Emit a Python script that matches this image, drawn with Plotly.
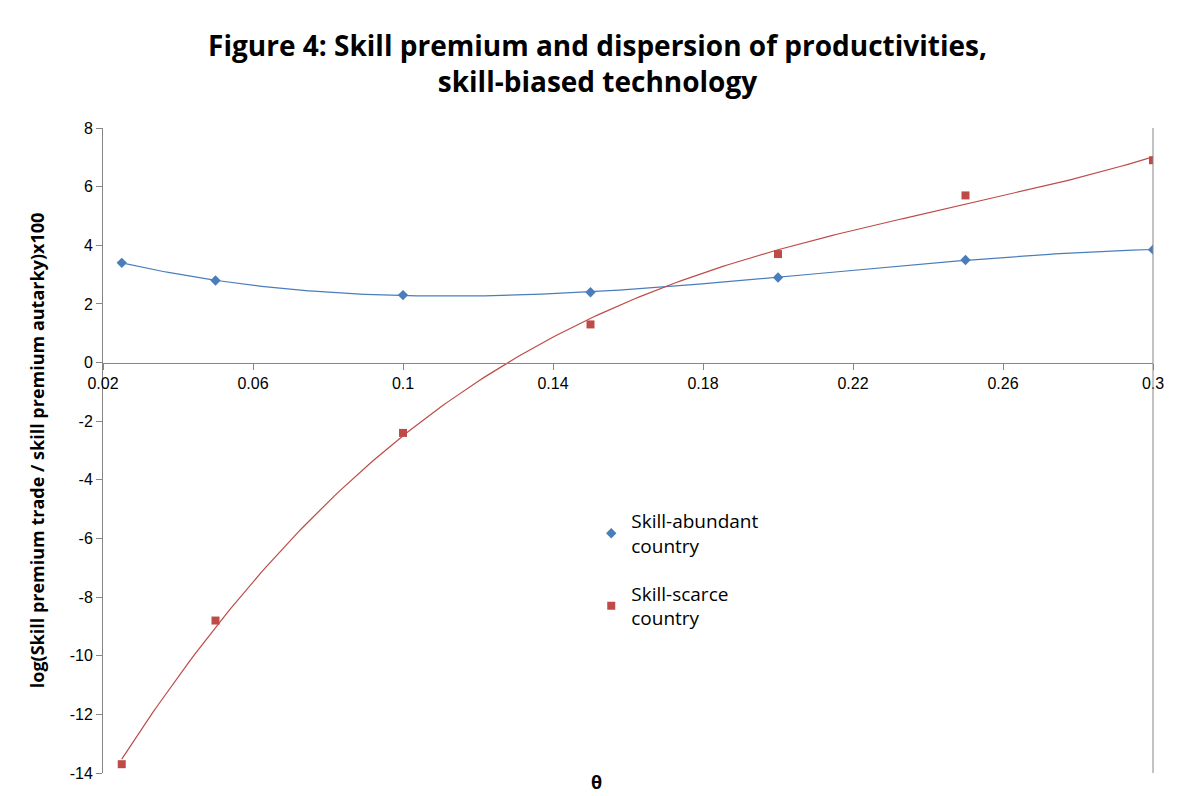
import numpy as np
import plotly.graph_objects as go

theta = [0.025, 0.05, 0.1, 0.15, 0.2, 0.25, 0.3]
abundant = [3.4, 2.8, 2.3, 2.4, 2.9, 3.5, 3.85]
scarce = [-13.7, -8.8, -2.4, 1.3, 3.7, 5.7, 6.9]

x_ticks = [0.02, 0.06, 0.1, 0.14, 0.18, 0.22, 0.26, 0.3]
y_ticks = list(range(-14, 9, 2))

blue = "#4a7ebb"
red = "#be4b48"

# Excel-style polynomial trendlines
xs = np.linspace(0.025, 0.3, 200)
fit_a = np.polyval(np.polyfit(theta, abundant, 3), xs)
fit_s = np.polyval(np.polyfit(theta, scarce, 3), xs)

fig = go.Figure()
fig.add_trace(go.Scatter(x=xs, y=fit_a, mode="lines", line=dict(color=blue, width=1.2),
                         showlegend=False, hoverinfo="skip"))
fig.add_trace(go.Scatter(x=xs, y=fit_s, mode="lines", line=dict(color=red, width=1.2),
                         showlegend=False, hoverinfo="skip"))
fig.add_trace(go.Scatter(x=theta, y=abundant, mode="markers", name="Skill-abundant<br>country",
                         legendgroup="a", marker=dict(symbol="diamond", size=8, color=blue)))
fig.add_trace(go.Scatter(x=theta, y=scarce, mode="markers", name="Skill-scarce<br>country",
                         legendgroup="s", marker=dict(symbol="square", size=8, color=red)))

fig.update_layout(
    width=1179, height=796,
    margin=dict(l=95, r=34, t=120, b=31),
    paper_bgcolor="white", plot_bgcolor="white",
    font=dict(family="Liberation Sans, Arial", size=16, color="black"),
    title=dict(text="<b>Figure 4: Skill premium and dispersion of productivities,<br>skill-biased technology</b>",
               x=0.5, xanchor="center", y=0.94, yanchor="top",
               font=dict(family="Open Sans", size=28)),
    xaxis=dict(range=[0.02, 0.3], tickvals=x_ticks, ticktext=[f"{v:g}" for v in x_ticks],
               anchor="free", position=14/22, showline=True, linecolor="#868686",
               ticks="outside", ticklen=6, tickcolor="#868686", showgrid=False, zeroline=False),
    yaxis=dict(range=[-14, 8], tickvals=y_ticks, ticktext=[str(v) for v in y_ticks],
               showline=True, linecolor="#868686", ticks="outside",
               ticklen=6, tickcolor="#868686", showgrid=False, zeroline=False,
               title=dict(text="<b>log(Skill premium trade / skill premium autarky)x100</b>",
                          font=dict(family="Open Sans", size=18), standoff=20)),
    legend=dict(x=0.465, y=0.42, xanchor="left", yanchor="top", bgcolor="rgba(0,0,0,0)",
                font=dict(family="Open Sans", size=19), tracegroupgap=20),
    annotations=[dict(text="<b>θ</b>", x=0.47, y=0.008, xref="paper", yref="paper",
                      yanchor="top", showarrow=False, font=dict(family="Open Sans", size=18))],
    shapes=[dict(type="line", xref="paper", yref="paper", x0=1, x1=1, y0=0, y1=1,
                 line=dict(color="#868686", width=1))],
)

fig.write_html("out.html")
